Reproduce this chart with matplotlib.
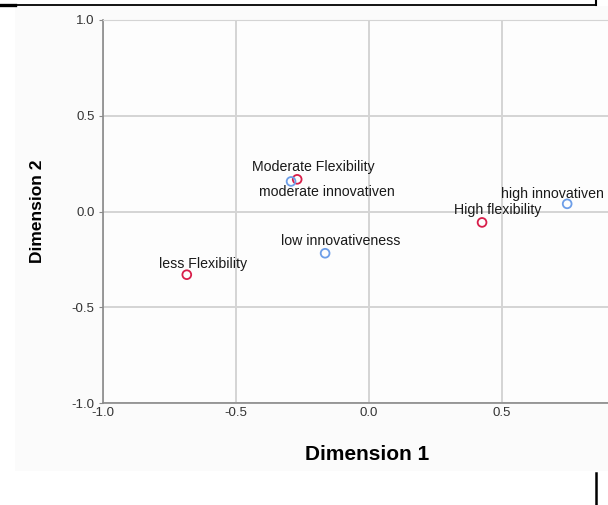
import matplotlib.pyplot as plt
from matplotlib.lines import Line2D
from matplotlib.patches import Rectangle

plt.rcParams.update({
    "font.family": ["Liberation Sans", "DejaVu Sans"],
})

# category points (dimension 1, dimension 2)
flex_labels = ["Moderate Flexibility", "less Flexibility", "High flexibility"]
flex_dim1 = [-0.27, -0.685, 0.425]
flex_dim2 = [0.168, -0.33, -0.057]

innov_labels = ["moderate innovativen", "low innovativeness", "high innovativen"]
innov_dim1 = [-0.293, -0.165, 0.745]
innov_dim2 = [0.157, -0.218, 0.04]

# label offsets in pixels, relative to each point
flex_offsets = [(16, 12), (16, 11), (16, 12)]
innov_offsets = [(36, -11), (16, 12), (-15, 10)]

ticks = [-1.0, -0.5, 0.0, 0.5, 1.0]
xtick_labels = ["-1.0", "-0.5", "0.0", "0.5", ""]
ytick_labels = ["-1.0", "-0.5", "0.0", "0.5", "1.0"]

red = "#d81e4a"
blue = "#6d9ee8"

fig = plt.figure(figsize=(6.08, 5.05), dpi=100)
W, H = 608, 505

# pale panel behind the plot
fig.patches.append(Rectangle((15 / W, 1 - 471 / H), 1 - 15 / W, 471 / H - 6 / H,
                             transform=fig.transFigure, facecolor="#fbfbfb",
                             edgecolor="none", zorder=-1))

ax = fig.add_axes([103 / W, 1 - 403 / H, 532 / W, 383 / H])
ax.set_zorder(1)
ax.set_facecolor("#fdfdfd")
ax.set_xlim(-1.0, 1.0)
ax.set_ylim(-1.0, 1.0)
ax.set_xticks(ticks)
ax.set_yticks(ticks)
ax.set_xticklabels(xtick_labels)
ax.set_yticklabels(ytick_labels)
ax.grid(True, color="#d4d4d4", linewidth=1.4)
ax.set_axisbelow(True)
for side in ["left", "bottom"]:
    ax.spines[side].set_color("#8a8a8a")
    ax.spines[side].set_linewidth(1.2)
for side in ["top", "right"]:
    ax.spines[side].set_color("#d4d4d4")
ax.tick_params(axis="y", length=3, color="#8a8a8a", labelsize=9.5,
               labelcolor="#333333", pad=3)
ax.tick_params(axis="x", length=0, labelsize=9.5, labelcolor="#333333", pad=3)

ax.scatter(flex_dim1, flex_dim2, s=40, facecolors="none", edgecolors=red,
           linewidths=1.3, zorder=3)
ax.scatter(innov_dim1, innov_dim2, s=40, facecolors="none", edgecolors=blue,
           linewidths=1.3, zorder=3)

for lab, x, y, off in zip(flex_labels, flex_dim1, flex_dim2, flex_offsets):
    ax.annotate(lab, (x, y), xytext=off, textcoords="offset pixels",
                ha="center", va="center", fontsize=10.2, color="#1a1a1a")
for lab, x, y, off in zip(innov_labels, innov_dim1, innov_dim2, innov_offsets):
    ax.annotate(lab, (x, y), xytext=off, textcoords="offset pixels",
                ha="center", va="center", fontsize=10.2, color="#1a1a1a",
                annotation_clip=False)

fig.text(367 / W, 1 - 455 / H, "Dimension 1", ha="center", va="center",
         fontsize=15, fontweight="bold")
fig.text(37 / W, 1 - 211 / H, "Dimension 2", ha="center", va="center",
         rotation=90, fontsize=12.5, fontweight="bold")

# frame lines around the figure
fig.add_artist(Line2D([0, 15 / W], [1 - 4.5 / H] * 2, color="black", linewidth=2.4))
fig.add_artist(Line2D([15 / W, 596 / W], [1 - 4.5 / H] * 2, color="black", linewidth=1.3))
fig.add_artist(Line2D([596 / W] * 2, [1, 1 - 5 / H], color="black", linewidth=1.5))
fig.add_artist(Line2D([596 / W] * 2, [1 - 473 / H, 0], color="black", linewidth=1.8))

fig.savefig("out.png", dpi=100)
